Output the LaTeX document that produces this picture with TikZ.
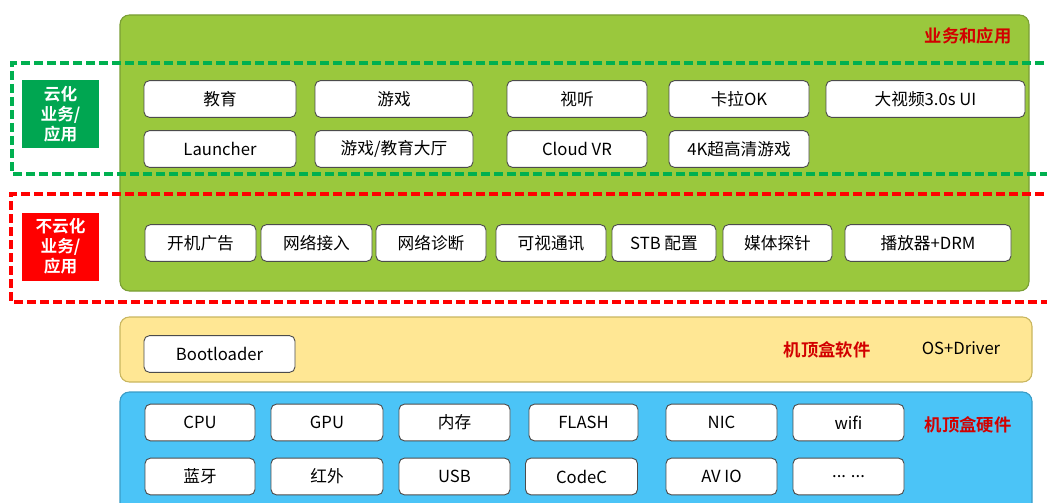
\documentclass[tikz,border=0pt]{standalone}
\usepackage{fontspec}
\setmainfont{Noto Sans CJK SC}[BoldFont={Noto Sans CJK SC Bold}]
\usepackage{tikz}
\usetikzlibrary{shapes}
\definecolor{appgreen}{HTML}{9AC83D}
\definecolor{appborder}{HTML}{7A9E35}
\definecolor{swyellow}{HTML}{FFE794}
\definecolor{swborder}{HTML}{C9B65F}
\definecolor{hwblue}{HTML}{4BC4F7}
\definecolor{hwborder}{HTML}{3A9CC6}
\definecolor{cloudgreen}{HTML}{00A651}
\definecolor{dashgreen}{HTML}{00B050}
\definecolor{titlered}{HTML}{D20000}

\begin{document}
\begin{tikzpicture}[x=0.75pt,y=-0.75pt]
\tikzstyle{layer}=[line width=0.8pt, rounded corners=7pt]
\tikzstyle{item}=[rectangle, draw=black!70, fill=white, rounded corners=4pt, line width=0.7pt,
                  inner sep=0pt, minimum height=27.5pt, font=\fontsize{12.5}{14}\selectfont]
\tikzstyle{tag}=[rectangle, text=white, inner sep=0pt, minimum width=57.75pt, minimum height=51pt,
                 align=center, font=\bfseries\fontsize{12.5}{15}\selectfont]
\tikzstyle{title}=[text=titlered, font=\bfseries\fontsize{13}{15}\selectfont]
\tikzstyle{zone}=[line width=2.3pt, dash pattern=on 6.75pt off 3pt]

\useasboundingbox (0,0) rectangle (1047,503);

% layers
\draw[layer, fill=appgreen, draw=appborder] (120,15) rectangle (1029,291);
\draw[layer, fill=swyellow, draw=swborder] (120,317) rectangle (1032,382);
\draw[layer, fill=hwblue, draw=hwborder] (120,392) rectangle (1032,520);

% dashed zones
\draw[zone, draw=dashgreen] (1070,63) -- (12,63) -- (12,174) -- (1070,174);
\draw[zone, draw=red] (1070,194) -- (11,194) -- (11,302) -- (1070,302);

\node[tag, fill=cloudgreen] (CLOUD) at (60.5,114) {云化\\业务/\\应用};
\node[tag, fill=red] (LOCAL) at (60.5,246.5) {不云化\\业务/\\应用};

\node[title] (APPS) at (968,36) {业务和应用};
\node[title] (SW) at (827,350) {机顶盒软件};
\node[font=\fontsize{12.5}{14}\selectfont] (OS) at (961,348) {OS+Driver};
\node[title] (HW) at (968,425) {机顶盒硬件};

% cloud apps
\node[item, minimum width=114pt] (EDU) at (220,99) {教育};
\node[item, minimum width=118.5pt] (GAME) at (394,99) {游戏};
\node[item, minimum width=105pt] (AV) at (577,99) {视听};
\node[item, minimum width=105pt] (KTV) at (739,99) {卡拉OK};
\node[item, minimum width=149.25pt] (BIGV) at (925.5,99) {大视频3.0s UI};
\node[item, minimum width=114pt] (LAUNCH) at (220,149) {Launcher};
\node[item, minimum width=118.5pt] (HALL) at (394,149) {游戏/教育大厅};
\node[item, minimum width=105pt] (VR) at (577,149) {Cloud VR};
\node[item, minimum width=105pt] (UHD) at (739,149) {4K超高清游戏};

% local apps
\node[item, minimum width=83.25pt] (AD) at (200.5,243) {开机广告};
\node[item, minimum width=83.25pt] (NET) at (316.5,243) {网络接入};
\node[item, minimum width=82.5pt] (DIAG) at (431,243) {网络诊断};
\node[item, minimum width=82.5pt] (VCALL) at (551,243) {可视通讯};
\node[item, minimum width=78pt] (CFG) at (664,243) {STB 配置};
\node[item, minimum width=81.75pt] (PROBE) at (777.5,243) {媒体探针};
\node[item, minimum width=124.5pt] (PLAY) at (928,243) {播放器+DRM};

% software
\node[item, minimum width=113.25pt] (BOOT) at (219.5,354) {Bootloader};

% hardware
\node[item, minimum width=82.5pt] (CPU) at (200,422.5) {CPU};
\node[item, minimum width=84pt] (GPU) at (327,422.5) {GPU};
\node[item, minimum width=83.25pt] (MEM) at (454.5,422.5) {内存};
\node[item, minimum width=81.75pt] (FLASH) at (583.5,422.5) {FLASH};
\node[item, minimum width=83.25pt] (NIC) at (721.5,422.5) {NIC};
\node[item, minimum width=83.25pt] (WIFI) at (848.5,422.5) {wifi};
\node[item, minimum width=82.5pt] (BT) at (200,476.5) {蓝牙};
\node[item, minimum width=84pt] (IR) at (327,476.5) {红外};
\node[item, minimum width=83.25pt] (USB) at (454.5,476.5) {USB};
\node[item, minimum width=84pt] (CODEC) at (581.5,476.5) {CodeC};
\node[item, minimum width=83.25pt] (AVIO) at (721.5,476.5) {AV IO};
\node[item, minimum width=83.25pt] (MORE) at (848.5,476.5) {... ...};
\end{tikzpicture}
\end{document}
